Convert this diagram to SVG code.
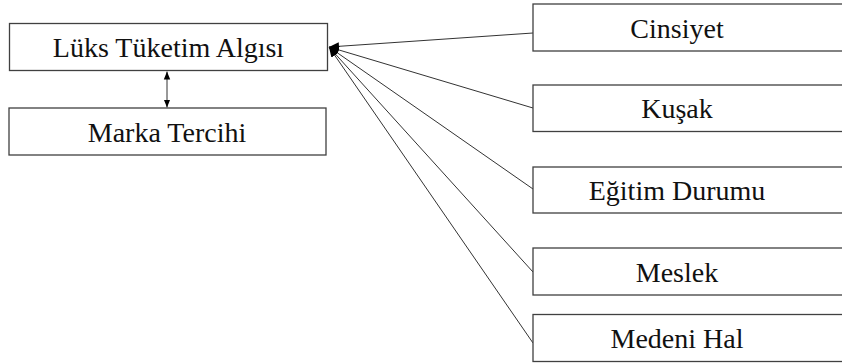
<svg xmlns="http://www.w3.org/2000/svg" width="842" height="363" viewBox="0 0 842 363">
<style>
.box{fill:#fff;stroke:#404040;stroke-width:1.3}
.lbl{font-family:"Liberation Serif","Times New Roman",serif;font-size:28px;fill:#111;text-anchor:middle}
.conn{stroke:#333;stroke-width:1;fill:none}
</style>
<defs>
<marker id="ah" viewBox="0 0 10 10" refX="10" refY="5" markerWidth="10" markerHeight="10" markerUnits="userSpaceOnUse" orient="auto">
<path d="M0,1 L10,5 L0,9 Z" fill="#000"/>
</marker>
<marker id="ah2" viewBox="0 0 10 10" refX="10" refY="5" markerWidth="8" markerHeight="8" markerUnits="userSpaceOnUse" orient="auto-start-reverse">
<path d="M0,1 L10,5 L0,9 Z" fill="#000"/>
</marker>
</defs>
<rect width="842" height="363" fill="#fff"/>
<g id="connectors">
<line class="conn" x1="533" y1="33" x2="329" y2="47" marker-end="url(#ah)"/>
<line class="conn" x1="533" y1="108" x2="329" y2="47" marker-end="url(#ah)"/>
<line class="conn" x1="533" y1="189" x2="329" y2="47" marker-end="url(#ah)"/>
<line class="conn" x1="533" y1="272" x2="329" y2="47" marker-end="url(#ah)"/>
<line class="conn" x1="533" y1="343" x2="329" y2="47" marker-end="url(#ah)"/>
<line class="conn" x1="167" y1="71.5" x2="167" y2="107.5" marker-start="url(#ah2)" marker-end="url(#ah2)"/>
</g>
<g id="luks">
<rect class="box" x="9.5" y="23.5" width="318" height="47"/>
<text class="lbl" x="168.5" y="57">Lüks Tüketim Algısı</text>
</g>
<g id="marka">
<rect class="box" x="9" y="108" width="317" height="47"/>
<text class="lbl" x="167" y="141.5">Marka Tercihi</text>
</g>
<g id="cinsiyet">
<rect class="box" x="533" y="4" width="320" height="47"/>
<text class="lbl" x="677" y="37.5">Cinsiyet</text>
</g>
<g id="kusak">
<rect class="box" x="533" y="85" width="320" height="46.5"/>
<text class="lbl" x="677" y="118">Kuşak</text>
</g>
<g id="egitim">
<rect class="box" x="533" y="167" width="320" height="46"/>
<text class="lbl" x="677" y="200">Eğitim Durumu</text>
</g>
<g id="meslek">
<rect class="box" x="533" y="248" width="320" height="47"/>
<text class="lbl" x="677" y="281.5">Meslek</text>
</g>
<g id="medeni">
<rect class="box" x="533" y="314.5" width="320" height="47"/>
<text class="lbl" x="677" y="348">Medeni Hal</text>
</g>
</svg>
